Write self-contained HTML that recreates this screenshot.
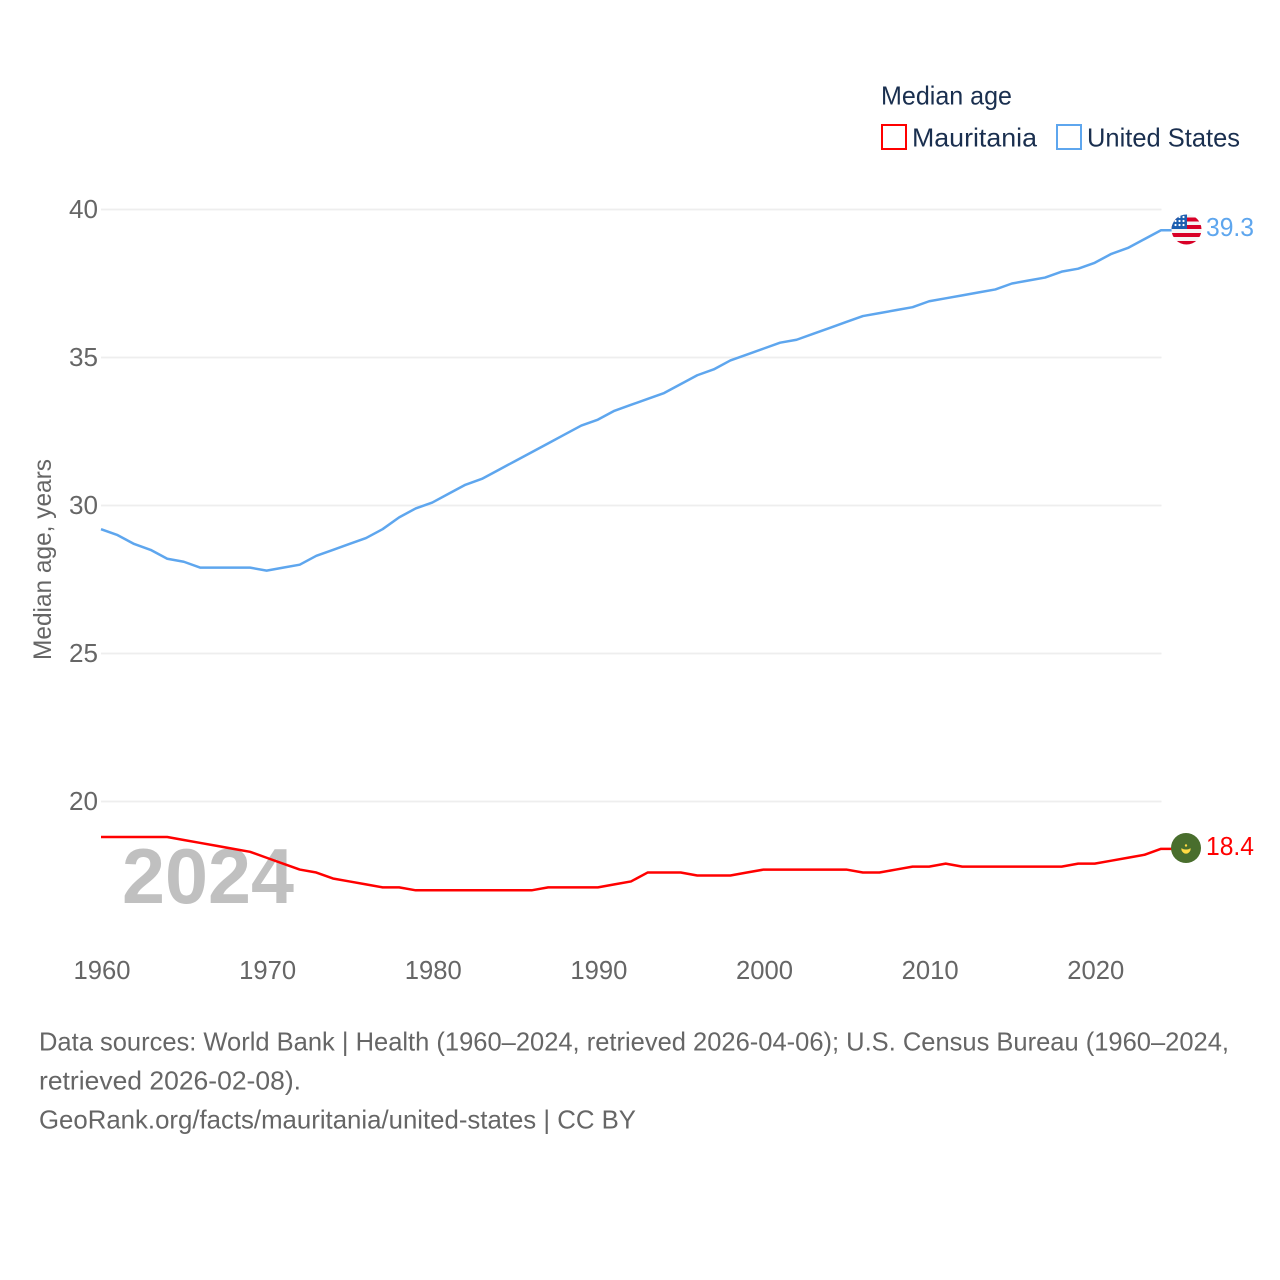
<!DOCTYPE html>
<html lang="en">
<head>
<meta charset="utf-8">
<title>Median age: Mauritania vs United States</title>
<style>
html,body{margin:0;padding:0;background:#fff;width:1280px;height:1280px;overflow:hidden}
svg{display:block}
text{font-family:"Liberation Sans",sans-serif}
</style>
</head>
<body>
<svg id="chart" xmlns="http://www.w3.org/2000/svg" width="1280" height="1280" viewBox="0 0 1280 1280">
  <defs>
    <clipPath id="clip-us"><circle cx="1186.5" cy="229.5" r="15"/></clipPath>
    <clipPath id="clip-mr"><circle cx="1186" cy="848" r="15"/></clipPath>
  </defs>
  <rect x="0" y="0" width="1280" height="1280" fill="#fff"/>
  <g id="grid"></g>
  <text x="122" y="903" font-size="78" font-weight="700" fill="#c0c0c0" textLength="172" lengthAdjust="spacingAndGlyphs">2024</text>
  <g id="y-ticks"></g>
  <g id="x-ticks"></g>
  <text transform="translate(51,660) rotate(-90)" font-size="25" fill="#666" textLength="201" lengthAdjust="spacingAndGlyphs">Median age, years</text>
  <g id="series"></g>

  <g clip-path="url(#clip-us)">
    <rect x="1171" y="214" width="31" height="31" fill="#f5f5f5"/>
    <rect x="1171" y="217.5" width="31" height="4" fill="#d80027"/>
    <rect x="1171" y="225" width="31" height="4" fill="#d80027"/>
    <rect x="1171" y="233" width="31" height="4" fill="#d80027"/>
    <rect x="1171" y="241" width="31" height="4" fill="#d80027"/>
    <rect x="1171" y="214" width="16" height="15" fill="#1d5fb0"/>
    <circle cx="1175.5" cy="225" r="1.1" fill="#fff"/>
    <circle cx="1179.5" cy="225" r="1.1" fill="#fff"/>
    <circle cx="1183.5" cy="225" r="1.1" fill="#fff"/>
    <circle cx="1175.5" cy="221" r="1.1" fill="#fff"/>
    <circle cx="1179.5" cy="221" r="1.1" fill="#fff"/>
    <circle cx="1183.5" cy="221" r="1.1" fill="#fff"/>
    <circle cx="1179.5" cy="217" r="1.1" fill="#fff"/>
    <circle cx="1183.5" cy="217" r="1.1" fill="#fff"/>
  </g>
  <g clip-path="url(#clip-mr)">
    <rect x="1171" y="833" width="30" height="30" fill="#496e2d"/>
    <path d="M1181.5 848.5a4.5 5 0 0 0 9 0a5.5 3 0 0 1-9 0z" fill="#ffda44" stroke="#ffda44" stroke-width="0.5"/>
    <circle cx="1186" cy="845.5" r="1.2" fill="#ffda44"/>
  </g>

  <text id="us-value" x="1206" y="236" font-size="26" fill="#5ea6ee" textLength="48" lengthAdjust="spacingAndGlyphs">39.3</text>
  <text id="mr-value" x="1206" y="855" font-size="26" fill="#ff0000" textLength="48" lengthAdjust="spacingAndGlyphs">18.4</text>

  <g>
    <text x="881" y="104.5" font-size="26" fill="#1a2f4f" textLength="131" lengthAdjust="spacingAndGlyphs">Median age</text>
    <g>
      <rect x="882" y="125" width="24" height="24" fill="#fff" stroke="#ff0000" stroke-width="2"/>
      <text x="912" y="146.5" font-size="26" fill="#1a2f4f" textLength="125" lengthAdjust="spacingAndGlyphs">Mauritania</text>
    </g>
    <g>
      <rect x="1057" y="125" width="24" height="24" fill="#fff" stroke="#5ea6ee" stroke-width="2"/>
      <text x="1087" y="146.5" font-size="26" fill="#1a2f4f" textLength="153" lengthAdjust="spacingAndGlyphs">United States</text>
    </g>
  </g>

  <g>
    <text x="39" y="1050.5" font-size="26" fill="#666" textLength="1190" lengthAdjust="spacingAndGlyphs">Data sources: World Bank | Health (1960–2024, retrieved 2026-04-06); U.S. Census Bureau (1960–2024,</text>
    <text x="39" y="1089.5" font-size="26" fill="#666" textLength="262" lengthAdjust="spacingAndGlyphs">retrieved 2026-02-08).</text>
    <text x="39" y="1128.5" font-size="26" fill="#666" textLength="597" lengthAdjust="spacingAndGlyphs">GeoRank.org/facts/mauritania/united-states | CC BY</text>
  </g>
</svg>
<script>
const years = [1960,1961,1962,1963,1964,1965,1966,1967,1968,1969,1970,1971,1972,1973,1974,1975,1976,1977,1978,1979,1980,1981,1982,1983,1984,1985,1986,1987,1988,1989,1990,1991,1992,1993,1994,1995,1996,1997,1998,1999,2000,2001,2002,2003,2004,2005,2006,2007,2008,2009,2010,2011,2012,2013,2014,2015,2016,2017,2018,2019,2020,2021,2022,2023,2024];
const unitedStates = [29.2,29.0,28.7,28.5,28.2,28.1,27.9,27.9,27.9,27.9,27.8,27.9,28.0,28.3,28.5,28.7,28.9,29.2,29.6,29.9,30.1,30.4,30.7,30.9,31.2,31.5,31.8,32.1,32.4,32.7,32.9,33.2,33.4,33.6,33.8,34.1,34.4,34.6,34.9,35.1,35.3,35.5,35.6,35.8,36.0,36.2,36.4,36.5,36.6,36.7,36.9,37.0,37.1,37.2,37.3,37.5,37.6,37.7,37.9,38.0,38.2,38.5,38.7,39.0,39.3];
const mauritania = [18.8,18.8,18.8,18.8,18.8,18.7,18.6,18.5,18.4,18.3,18.1,17.9,17.7,17.6,17.4,17.3,17.2,17.1,17.1,17.0,17.0,17.0,17.0,17.0,17.0,17.0,17.0,17.1,17.1,17.1,17.1,17.2,17.3,17.6,17.6,17.6,17.5,17.5,17.5,17.6,17.7,17.7,17.7,17.7,17.7,17.7,17.6,17.6,17.7,17.8,17.8,17.9,17.8,17.8,17.8,17.8,17.8,17.8,17.8,17.9,17.9,18.0,18.1,18.2,18.4];
const yTickValues = [20,25,30,35,40];
const xTickValues = [1960,1970,1980,1990,2000,2010,2020];

const NS = 'http://www.w3.org/2000/svg';
const xScale = year => 101 + (year - 1960) * (1161 - 101) / 64;
const yScale = value => 801.5 - (value - 20) * 29.6;

const gridGroup = document.getElementById('grid');
const yTickGroup = document.getElementById('y-ticks');
yTickValues.forEach(v => {
  const line = document.createElementNS(NS, 'line');
  
  
  line.setAttribute('x1', xScale(1960));
  line.setAttribute('x2', xScale(2024) + 0.5);
  line.setAttribute('y1', yScale(v));
  line.setAttribute('y2', yScale(v));
  line.setAttribute('stroke', '#eeeeee');
  line.setAttribute('stroke-width', '1.7');
  gridGroup.appendChild(line);
  const label = document.createElementNS(NS, 'text');
  
  
  label.setAttribute('x', 69);
  label.setAttribute('y', yScale(v) + 8.5);
  label.setAttribute('font-size', '26');
  label.setAttribute('fill', '#666');
  label.setAttribute('textLength', '29');
  label.setAttribute('lengthAdjust', 'spacingAndGlyphs');
  label.textContent = v;
  yTickGroup.appendChild(label);
});

const xTickGroup = document.getElementById('x-ticks');
xTickValues.forEach(y => {
  const label = document.createElementNS(NS, 'text');
  
  
  label.setAttribute('x', xScale(y) - 27.5);
  label.setAttribute('y', 979);
  label.setAttribute('font-size', '26');
  label.setAttribute('fill', '#666');
  label.setAttribute('textLength', '57');
  label.setAttribute('lengthAdjust', 'spacingAndGlyphs');
  label.textContent = y;
  xTickGroup.appendChild(label);
});

const seriesGroup = document.getElementById('series');
function drawSeries(values, color, name) {
  const pts = values.map((v, i) => xScale(years[i]).toFixed(2) + ',' + yScale(v).toFixed(2));
  const lastY = yScale(values[values.length - 1]).toFixed(2);
  pts.push('1172,' + lastY);
  const line = document.createElementNS(NS, 'polyline');
  
  
  line.setAttribute('points', pts.join(' '));
  line.setAttribute('fill', 'none');
  line.setAttribute('stroke', color);
  line.setAttribute('stroke-width', '2.5');
  line.setAttribute('stroke-linejoin', 'round');
  seriesGroup.appendChild(line);
}
drawSeries(mauritania, '#ff0000', 'mauritania-line');
drawSeries(unitedStates, '#5ea6ee', 'united-states-line');
</script>
</body>
</html>
